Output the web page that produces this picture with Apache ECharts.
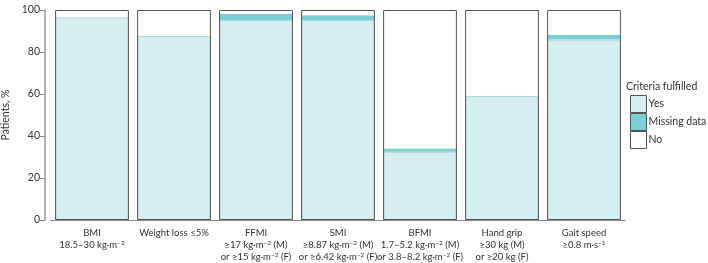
<!DOCTYPE html>
<html><head><meta charset="utf-8">
<script src="https://cdn.jsdelivr.net/npm/echarts@6/dist/echarts.min.js"></script>
<style>html,body{margin:0;padding:0;background:#fff}#c{width:708px;height:263px}</style>
</head><body><div id="c"></div>
<script>
const categories = [
  "BMI\n18.5–30 kg·m{sup|−2}",
  "Weight loss ≤5%",
  "FFMI\n≥17 kg·m{sup|−2} (M)\nor ≥15 kg·m{sup|−2} (F)",
  "SMI\n≥8.87 kg·m{sup|−2} (M)\nor ≥6.42 kg·m{sup|−2} (F)",
  "BFMI\n1.7–5.2 kg·m{sup|−2} (M)\nor 3.8–8.2 kg·m{sup|−2} (F)",
  "Hand grip\n≥30 kg (M)\nor ≥20 kg (F)",
  "Gait speed\n≥0.8 m·s{sup|−1}"
];
const yesValues     = [96.5, 87.6, 95.2, 95.2, 32.5, 59.0, 85.9];
const missingValues = [0,    0,    2.9,  2.3,  1.6,  0,    2.2];
const noValues      = [3.5, 12.4,  1.9,  2.5, 65.9, 41.0, 11.9];
const totalValues   = [100, 100, 100, 100, 100, 100, 100];
const yTicks = [0, 20, 40, 60, 80, 100];

const chart = echarts.init(document.getElementById('c'), null, {renderer: 'canvas'});
const font = 'Lato';
chart.setOption({
  animation: false,
  textStyle: {fontFamily: font},
  title: {
    text: 'Criteria fulfilled', left: 626, top: 81, padding: 0,
    textStyle: {fontFamily: font, fontSize: 10.5, fontWeight: 'normal', color: '#333'}
  },
  legend: {
    orient: 'vertical', left: 630, top: 95, padding: 0, width: 78,
    itemWidth: 16, itemHeight: 17, itemGap: 0,
    icon: 'rect',
    textStyle: {fontFamily: font, fontSize: 10.5, color: '#333', padding: [0,0,0,-3]},
    data: [
      {name: 'Yes', itemStyle: {borderColor: '#555', borderWidth: 1}},
      {name: 'Missing data', itemStyle: {borderColor: '#555', borderWidth: 1}},
      {name: 'No', itemStyle: {borderColor: '#555', borderWidth: 1}}
    ]
  },
  grid: {left: 51, right: 83, top: 10, bottom: 43, outerBoundsMode: 'none', containLabel: false},
  xAxis: {
    type: 'category', data: categories,
    axisLine: {lineStyle: {color: '#888', width: 1}},
    axisTick: {alignWithLabel: true, length: 4, lineStyle: {color: '#888'}},
    axisLabel: {
      interval: 0, fontSize: 9.5, color: '#333', lineHeight: 12, margin: 7, hideOverlap: false,
      rich: {sup: {fontSize: 6.5, lineHeight: 8, verticalAlign: 'top', color: '#333'}}
    }
  },
  yAxis: {
    type: 'value', min: 0, max: 100, interval: 20, offset: 6,
    name: 'Patients, %', nameLocation: 'middle', nameGap: 33,
    nameTextStyle: {fontFamily: font, fontSize: 10.5, color: '#333'},
    axisLine: {show: true, lineStyle: {color: '#999', width: 1.5}},
    axisTick: {show: true, length: 5, lineStyle: {color: '#888'}},
    axisLabel: {fontSize: 10.5, color: '#333', margin: 5,
      formatter: v => yTicks.includes(v) ? String(v) : ''},
    splitLine: {show: false}
  },
  series: [
    {name: 'Yes', type: 'bar', stack: 's', data: yesValues, barCategoryGap: '10%',
     itemStyle: {color: '#d6edf1', borderColor: '#a9d8de', borderWidth: 1}},
    {name: 'Missing data', type: 'bar', stack: 's', data: missingValues,
     itemStyle: {color: '#7dcdd5', borderWidth: 0}},
    {name: 'No', type: 'bar', stack: 's', data: noValues,
     itemStyle: {color: '#ffffff', borderWidth: 0}},
    {name: 'outline', type: 'bar', data: totalValues, barGap: '-100%', barCategoryGap: '10%',
     itemStyle: {color: 'rgba(0,0,0,0)', borderColor: '#555', borderWidth: 1}, z: 5, silent: true}
  ]
});
</script></body></html>
